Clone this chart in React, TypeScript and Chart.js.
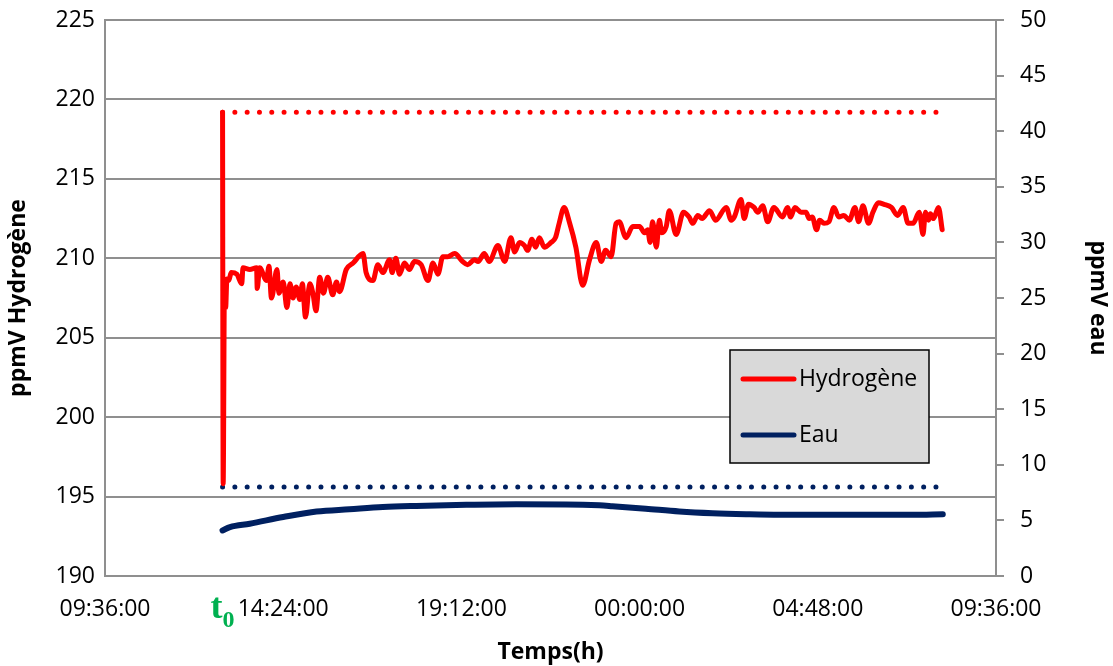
import React, { useEffect, useRef } from "react";
import { Chart, registerables } from "chart.js";

Chart.register(...registerables);

// ---------- DATA ----------
const h2Times: string[] = [
  "12:46", "12:47", "12:49", "12:51", "12:53", "12:56", "13:00", "13:09", "13:17", "13:19",
  "13:30", "13:41", "13:42", "13:46", "13:57", "14:01", "14:05", "14:14", "14:17", "14:24",
  "14:30", "14:35", "14:40", "14:45", "14:51", "14:55", "15:00", "15:07", "15:12", "15:17",
  "15:23", "15:29", "15:36", "15:44", "15:50", "15:55", "16:06", "16:17", "16:33", "16:38",
  "16:49", "16:57", "17:05", "17:16", "17:20", "17:26", "17:32", "17:40", "17:48", "17:56",
  "18:07", "18:18", "18:26", "18:34", "18:42", "18:50", "19:01", "19:14", "19:22", "19:33",
  "19:39", "19:49", "19:57", "20:11", "20:22", "20:32", "20:38", "20:46", "20:54", "20:59",
  "21:06", "21:12", "21:18", "21:26", "21:37", "21:44", "21:50", "21:58", "22:07", "22:17",
  "22:28", "22:39", "22:50", "22:58", "23:05", "23:14", "23:22", "23:27", "23:38", "23:49",
  "00:00", "00:08", "00:13", "00:17", "00:21", "00:27", "00:32", "00:36", "00:43", "00:48",
  "00:59", "01:11", "01:20", "01:26", "01:34", "01:41", "01:53", "02:03", "02:20", "02:28",
  "02:33", "02:44", "02:49", "02:56", "03:05", "03:11", "03:19", "03:27", "03:37", "03:51",
  "03:59", "04:04", "04:11", "04:21", "04:29", "04:34", "04:39", "04:46", "04:51", "04:58",
  "05:06", "05:14", "05:22", "05:30", "05:39", "05:48", "05:54", "06:01", "06:10", "06:17",
  "06:26", "06:35", "06:47", "06:57", "07:06", "07:14", "07:22", "07:32", "07:38", "07:42",
  "07:47", "07:50", "07:55", "08:03", "08:09",
];
const h2Values: number[] = [
  219.2, 195.8, 208.0, 206.9, 208.7, 208.6, 209.1, 209.0, 208.4, 209.4,
  209.3, 209.4, 208.1, 209.4, 208.6, 209.5, 207.5, 209.3, 207.8, 208.5,
  206.9, 208.4, 207.5, 208.2, 207.4, 208.4, 206.3, 208.4, 207.8, 206.7,
  208.8, 207.8, 208.8, 207.7, 208.5, 207.9, 209.3, 209.7, 210.3, 209.1,
  208.6, 209.6, 209.1, 209.9, 209.1, 210.0, 209.0, 209.7, 209.3, 209.8,
  209.6, 208.6, 209.7, 209.0, 210.1, 210.1, 210.3, 209.8, 209.6, 209.9,
  209.8, 210.3, 209.8, 210.8, 209.8, 211.3, 210.4, 211.0, 210.8, 210.5,
  211.2, 210.7, 211.3, 210.7, 211.0, 211.3, 212.2, 213.2, 212.2, 210.7,
  208.3, 209.9, 211.0, 209.8, 210.5, 210.1, 212.2, 212.3, 211.3, 212.0,
  212.0, 211.6, 211.8, 211.0, 212.3, 210.7, 212.4, 211.6, 212.0, 213.0,
  211.5, 212.9, 212.6, 212.2, 212.7, 212.5, 213.0, 212.4, 213.2, 212.4,
  212.6, 213.7, 212.5, 213.4, 213.2, 212.9, 213.3, 212.3, 213.2, 212.6,
  213.2, 212.6, 213.2, 212.9, 212.9, 212.5, 212.6, 211.8, 212.4, 212.2,
  212.3, 213.2, 212.6, 212.7, 212.4, 213.2, 212.3, 213.3, 212.2, 212.9,
  213.5, 213.4, 213.2, 212.7, 213.2, 212.2, 212.2, 212.9, 211.5, 212.9,
  212.4, 212.8, 212.5, 213.2, 211.8,
];

const eauTimes: string[] = [
  "12:46", "12:58", "13:30", "14:24", "15:18", "16:11", "17:05", "17:59", "19:20", "20:41",
  "22:01", "22:55", "23:16", "00:10", "01:04", "01:58", "02:52", "03:46", "05:33", "07:21",
  "08:10",
];
const eauValues: number[] = [
  4.1, 4.4, 4.7, 5.3, 5.8, 6.0, 6.2, 6.3, 6.4, 6.45,
  6.44, 6.36, 6.28, 6.05, 5.8, 5.64, 5.55, 5.5, 5.5, 5.5,
  5.55,
];

// dotted reference levels (left axis, ppmV)
const refTimes: string[] = ["12:46", "08:00"];
const h2RefLevel = 219.2;
const eauRefLevel = 195.6;

const xTickStartMin = 576; // 09:36
const xTickEndMin = 2016; // 09:36 next day
const xTickStepMin = 288; // 4h48
const yLeftTicks = { min: 190, max: 225, step: 5 };
const yRightTicks = { min: 0, max: 50, step: 5 };

const legendLabels = ["Hydrogène", "Eau"];
const RED = "#FF0000";
const NAVY = "#002060";
const GRID = "#8f8f8f";
const FONT = '"Open Sans", sans-serif';

function toMinutes(t: string): number {
  const [h, m] = t.split(":").map(Number);
  let v = h * 60 + m;
  if (v < xTickStartMin) v += 1440;
  return v;
}
function pad(n: number) {
  return n < 10 ? "0" + n : String(n);
}
function fmt(v: number): string {
  const m = ((Math.round(v) % 1440) + 1440) % 1440;
  return `${pad(Math.floor(m / 60))}:${pad(m % 60)}:00`;
}

const overlayPlugin = {
  id: "overlay",
  afterDraw(chart: any) {
    const { ctx, chartArea: ca, scales } = chart;
    ctx.save();
    // legend box
    const bx = ca.right - 266;
    const by = ca.top + 330;
    const bw = 199;
    const bh = 113;
    ctx.fillStyle = "#D9D9D9";
    ctx.fillRect(bx, by, bw, bh);
    ctx.strokeStyle = "#000";
    ctx.lineWidth = 1.5;
    ctx.strokeRect(bx, by, bw, bh);
    const items = [
      { label: legendLabels[0], color: RED, y: by + 29 },
      { label: legendLabels[1], color: NAVY, y: by + 85 },
    ];
    for (const it of items) {
      ctx.strokeStyle = it.color;
      ctx.lineWidth = 5;
      ctx.lineCap = "round";
      ctx.beginPath();
      ctx.moveTo(bx + 13, it.y);
      ctx.lineTo(bx + 64, it.y);
      ctx.stroke();
      ctx.fillStyle = "#000";
      ctx.font = `23px ${FONT}`;
      ctx.textBaseline = "middle";
      ctx.textAlign = "left";
      ctx.fillText(it.label, bx + 69, it.y);
    }
    // t0 marker
    const px = scales.x.getPixelForValue(toMinutes(h2Times[0]));
    ctx.fillStyle = "#00B050";
    ctx.textBaseline = "alphabetic";
    ctx.textAlign = "left";
    ctx.font = 'bold 36px "Liberation Serif", serif';
    ctx.fillText("t", px - 12, ca.bottom + 42);
    ctx.font = 'bold 24px "Liberation Serif", serif';
    ctx.fillText("0", px, ca.bottom + 51);
    ctx.restore();
  },
};

export default function App() {
  const ref = useRef<HTMLCanvasElement | null>(null);

  useEffect(() => {
    if (!ref.current) return;
    const h2Data = h2Times.map((t, i) => ({ x: toMinutes(t), y: h2Values[i] }));
    const eauData = eauTimes.map((t, i) => ({ x: toMinutes(t), y: eauValues[i] }));
    const h2Ref = refTimes.map((t) => ({ x: toMinutes(t), y: h2RefLevel }));
    const eauRef = refTimes.map((t) => ({ x: toMinutes(t), y: eauRefLevel }));

    const tickFont = { family: FONT, size: 23 };
    const titleFont = { family: FONT, size: 23, weight: "bold" as const };

    const chart = new Chart(ref.current, {
      type: "line",
      data: {
        datasets: [
          {
            label: legendLabels[0],
            data: h2Data,
            borderColor: RED,
            backgroundColor: RED,
            borderWidth: 5,
            pointRadius: 0,
            borderJoinStyle: "round",
            borderCapStyle: "round",
            cubicInterpolationMode: "monotone",
            yAxisID: "y",
          },
          {
            label: legendLabels[1],
            data: eauData,
            borderColor: NAVY,
            backgroundColor: NAVY,
            borderWidth: 6,
            pointRadius: 0,
            borderJoinStyle: "round",
            borderCapStyle: "round",
            cubicInterpolationMode: "monotone",
            yAxisID: "y1",
          },
          {
            label: "ref H2",
            data: h2Ref,
            borderColor: RED,
            borderWidth: 5,
            borderDash: [0, 12.3],
            borderCapStyle: "round",
            pointRadius: 0,
            yAxisID: "y",
          },
          {
            label: "ref eau",
            data: eauRef,
            borderColor: NAVY,
            borderWidth: 5,
            borderDash: [0, 12.3],
            borderCapStyle: "round",
            pointRadius: 0,
            yAxisID: "y",
          },
        ],
      },
      options: {
        animation: false,
        responsive: false,
        parsing: false as any,
        layout: { padding: { top: 20, left: 0, right: 0, bottom: 0 } },
        plugins: {
          legend: { display: false },
          tooltip: { enabled: false },
        },
        scales: {
          x: {
            type: "linear",
            min: xTickStartMin,
            max: xTickEndMin,
            afterFit: (s: any) => {
              s.height = 90;
              s.paddingLeft = 0;
              s.paddingRight = 0;
            },
            ticks: {
              stepSize: xTickStepMin,
              autoSkip: false,
              maxRotation: 0,
              padding: 20,
              color: "#000",
              font: tickFont,
              callback: (v: any) => fmt(Number(v)),
            },
            grid: { drawOnChartArea: false, drawTicks: false, color: GRID, lineWidth: 2 },
            border: { display: true, color: GRID, width: 2 },
            title: {
              display: true,
              text: "Temps(h)",
              color: "#000",
              font: titleFont,
              padding: { top: 0, bottom: 0 },
            },
          },
          y: {
            type: "linear",
            position: "left",
            min: yLeftTicks.min,
            max: yLeftTicks.max,
            afterFit: (s: any) => {
              s.width = 105;
              s.paddingTop = 0;
              s.paddingBottom = 0;
            },
            ticks: { stepSize: yLeftTicks.step, padding: 10, color: "#000", font: tickFont },
            grid: { color: GRID, lineWidth: 2, drawTicks: false },
            border: { display: true, color: GRID, width: 2 },
            title: {
              display: true,
              text: "ppmV Hydrogène",
              color: "#000",
              font: titleFont,
              padding: { top: 5, bottom: 0 },
            },
          },
          y1: {
            type: "linear",
            position: "right",
            min: yRightTicks.min,
            max: yRightTicks.max,
            afterFit: (s: any) => {
              s.width = 117;
              s.paddingTop = 0;
              s.paddingBottom = 0;
            },
            ticks: { stepSize: yRightTicks.step, padding: 16, color: "#000", font: tickFont },
            grid: {
              drawOnChartArea: false,
              drawTicks: true,
              tickLength: 8,
              color: GRID,
              lineWidth: 2,
            },
            border: { display: true, color: GRID, width: 2 },
            title: {
              display: true,
              text: "ppmV eau",
              color: "#000",
              font: titleFont,
              padding: { top: 2, bottom: 0 },
            },
          },
        },
      },
      plugins: [overlayPlugin],
    } as any);

    return () => chart.destroy();
  }, []);

  return (
    <div style={{ position: "absolute", left: 0, top: 0, width: 1113, height: 666, background: "#fff" }}>
      <canvas ref={ref} width={1113} height={666} style={{ display: "block" }} />
    </div>
  );
}
